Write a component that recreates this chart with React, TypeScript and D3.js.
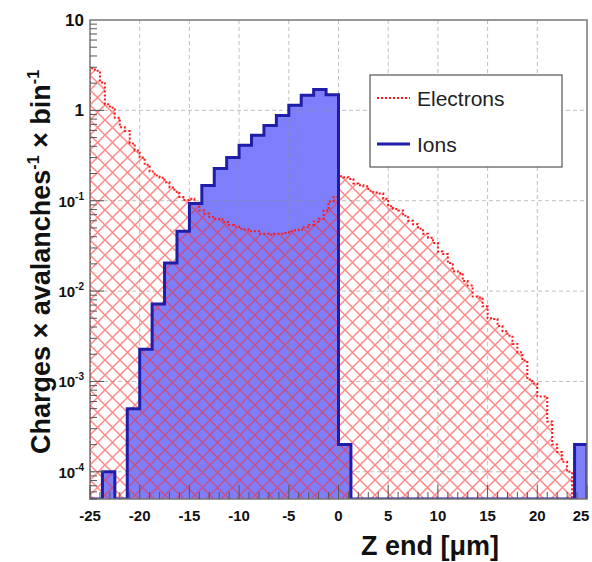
import React from 'react';
import * as d3 from 'd3';

const zDomain = [-25, 25];
const yDomain = [5e-5, 10];

// Ions: 40 bins of 1.25 um
const ionValues = [
  0, 1e-4, 0, 5e-4, 2.27e-3, 7.2e-3, 0.0204, 0.046, 0.093, 0.147,
  0.227, 0.30, 0.41, 0.53, 0.68, 0.88, 1.14, 1.47, 1.70, 1.49,
  2e-4, 0, 0, 0, 0, 0, 0, 0, 0, 0,
  0, 0, 0, 0, 0, 0, 0, 0, 0, 2e-4,
];

// Electrons: 100 bins of 0.5 um
const electronValues = [
  2.93, 2.75, 2.04, 1.17, 1.07, 0.83, 0.65, 0.59, 0.43, 0.36,
  0.30, 0.25, 0.21, 0.19, 0.18, 0.16, 0.14, 0.126, 0.11, 0.102,
  0.105, 0.095, 0.078, 0.072, 0.066, 0.063, 0.062, 0.058, 0.054, 0.052,
  0.049, 0.048, 0.046, 0.046, 0.043, 0.043, 0.042, 0.043, 0.043, 0.044,
  0.046, 0.047, 0.048, 0.051, 0.054, 0.059, 0.063, 0.078, 0.098, 0.11,
  0.186, 0.182, 0.174, 0.155, 0.148, 0.145, 0.129, 0.123, 0.12, 0.105,
  0.087, 0.081, 0.078, 0.068, 0.060, 0.055, 0.049, 0.043, 0.039, 0.034,
  0.0275, 0.0257, 0.0204, 0.0166, 0.0158, 0.0129, 0.0115, 0.0087, 0.0085, 0.0068,
  0.0050, 0.0049, 0.0041, 0.0036, 0.0032, 0.0026, 0.0021, 0.0017, 0.00105, 0.00095,
  0.00068, 0.00068, 0.00036, 0.0002, 0.000166, 0.000129, 0.0001, 0, 0, 0,
];

const xTickValues = [-25, -20, -15, -10, -5, 0, 5, 10, 15, 20, 25];
const yTickExponents = [1, 0, -1, -2, -3, -4];
const legendLabels = ['Electrons', 'Ions'];
const xTitle = 'Z end [\u03bcm]';

const W = 592, H = 562;
const M = { left: 90, right: 587, top: 20, bottom: 499 };

const ION_LINE = '#1e1ea8';
const ION_FILL = 'rgba(90,90,250,0.78)';
const EL_RED = '#ff1a1a';
const FONT = 'Liberation Sans, Arial, Helvetica, sans-serif';

export default function App() {
  const x = d3.scaleLinear().domain(zDomain).range([M.left, M.right]);
  const y = d3.scaleLog().domain(yDomain).range([M.bottom, M.top]).clamp(true);
  const yv = (v: number) => (v > 0 ? y(v) : M.bottom);

  const stepPoints = (vals: number[]) => {
    const n = vals.length;
    const bw = (zDomain[1] - zDomain[0]) / n;
    const pts: [number, number][] = [[x(zDomain[0]), M.bottom]];
    vals.forEach((v, i) => {
      const a = zDomain[0] + i * bw;
      pts.push([x(a), yv(v)]);
      pts.push([x(a + bw), yv(v)]);
    });
    pts.push([x(zDomain[1]), M.bottom]);
    return pts;
  };
  const line = d3.line<[number, number]>();
  const ionPath = line(stepPoints(ionValues)) as string;
  const elPath = line(stepPoints(electronValues)) as string;

  const minorX = d3.range(zDomain[0], zDomain[1] + 0.001, 1);
  const minorY: number[] = [];
  for (let e = -5; e < 1; e++) {
    for (let k = 1; k < 10; k++) {
      const v = k * Math.pow(10, e);
      if (v >= yDomain[0] && v <= yDomain[1]) minorY.push(v);
    }
  }

  return (
    <svg width={W} height={H} style={{ position: 'absolute', left: 0, top: 0, background: '#fff' }}>
      <defs>
        <pattern id="hatch" patternUnits="userSpaceOnUse" width={15} height={15}>
          <path d="M-7.5,-7.5L22.5,22.5M22.5,-7.5L-7.5,22.5" stroke="rgba(255,40,40,0.55)" strokeWidth={1.5} fill="none" />
        </pattern>
        <clipPath id="frameClip">
          <rect x={M.left} y={M.top - 2} width={M.right - M.left} height={M.bottom - M.top + 2} />
        </clipPath>
      </defs>
      <rect x={M.left} y={M.top} width={M.right - M.left} height={M.bottom - M.top} fill="#fff" />
      <g clipPath="url(#frameClip)">
        <path d={ionPath + 'Z'} fill={ION_FILL} stroke="none" />
        <path d={elPath + 'Z'} fill="url(#hatch)" stroke="none" />
      </g>
      {/* grid */}
      <g stroke="rgba(140,140,140,0.55)" strokeWidth={1} strokeDasharray="4,3">
        {xTickValues.slice(1, -1).map((t) => (
          <line key={'gx' + t} x1={x(t)} x2={x(t)} y1={M.top} y2={M.bottom} />
        ))}
        {yTickExponents.slice(1).map((e) => (
          <line key={'gy' + e} x1={M.left} x2={M.right} y1={y(Math.pow(10, e))} y2={y(Math.pow(10, e))} />
        ))}
      </g>
      <g clipPath="url(#frameClip)">
        <path d={elPath} fill="none" stroke={EL_RED} strokeWidth={2} strokeDasharray="2,2" />
        <path d={ionPath} fill="none" stroke={ION_LINE} strokeWidth={3} strokeLinejoin="miter" />
      </g>
      {/* frame */}
      <rect x={M.left} y={M.top} width={M.right - M.left} height={M.bottom - M.top} fill="none" stroke="#777" strokeWidth={1.5} />
      {/* ticks */}
      <g stroke="#555" strokeWidth={1}>
        {minorX.map((t) => {
          const major = Math.abs(t % 5) < 1e-9;
          return <line key={'tx' + t} x1={x(t)} x2={x(t)} y1={M.bottom} y2={M.bottom - (major ? 14 : 7)} />;
        })}
        {minorY.map((v) => {
          const major = Math.abs(Math.log10(v) - Math.round(Math.log10(v))) < 1e-9;
          return <line key={'ty' + v} x1={M.left} x2={M.left + (major ? 14 : 7)} y1={y(v)} y2={y(v)} />;
        })}
      </g>
      {/* x tick labels */}
      <g fontFamily={FONT} fontWeight="bold" fontSize={15} fill="#111" textAnchor="middle">
        {xTickValues.map((t) => (
          <text key={'lx' + t} x={Math.min(x(t), W - 11)} y={521}>{t}</text>
        ))}
      </g>
      {/* y tick labels */}
      <g fontFamily={FONT} fontWeight="bold" fill="#111" textAnchor="end">
        {yTickExponents.map((e) => {
          const yy = y(Math.pow(10, e)) + 6;
          if (e === 1) return <text key={'ly' + e} x={84} y={yy} fontSize={17}>10</text>;
          if (e === 0) return <text key={'ly' + e} x={84} y={yy} fontSize={17}>1</text>;
          return (
            <text key={'ly' + e} x={84} y={yy} fontSize={15}>
              10<tspan fontSize={10} dy={-7}>{String(e)}</tspan>
            </text>
          );
        })}
      </g>
      {/* axis titles */}
      <text x={430} y={555} fontFamily={FONT} fontWeight="bold" fontSize={27} textAnchor="middle" fill="#111">{xTitle}</text>
      <text transform="translate(50,262) rotate(-90)" fontFamily={FONT} fontWeight="bold" fontSize={27} textAnchor="middle" fill="#111">
        Charges × avalanches<tspan fontSize={16} dy={-11}>-1</tspan><tspan dy={11}> × bin</tspan><tspan fontSize={16} dy={-11}>-1</tspan>
      </text>
      {/* legend */}
      <g>
        <rect x={370} y={75} width={192} height={92} fill="#fff" stroke="#555" strokeWidth={1.2} />
        <line x1={377} x2={410} y1={98} y2={98} stroke={EL_RED} strokeWidth={2} strokeDasharray="2,2" />
        <line x1={377} x2={410} y1={144} y2={144} stroke={ION_LINE} strokeWidth={3} />
        <text x={417} y={106} fontFamily={FONT} fontSize={21} fill="#222">{legendLabels[0]}</text>
        <text x={417} y={152} fontFamily={FONT} fontSize={21} fill="#222">{legendLabels[1]}</text>
      </g>
    </svg>
  );
}
